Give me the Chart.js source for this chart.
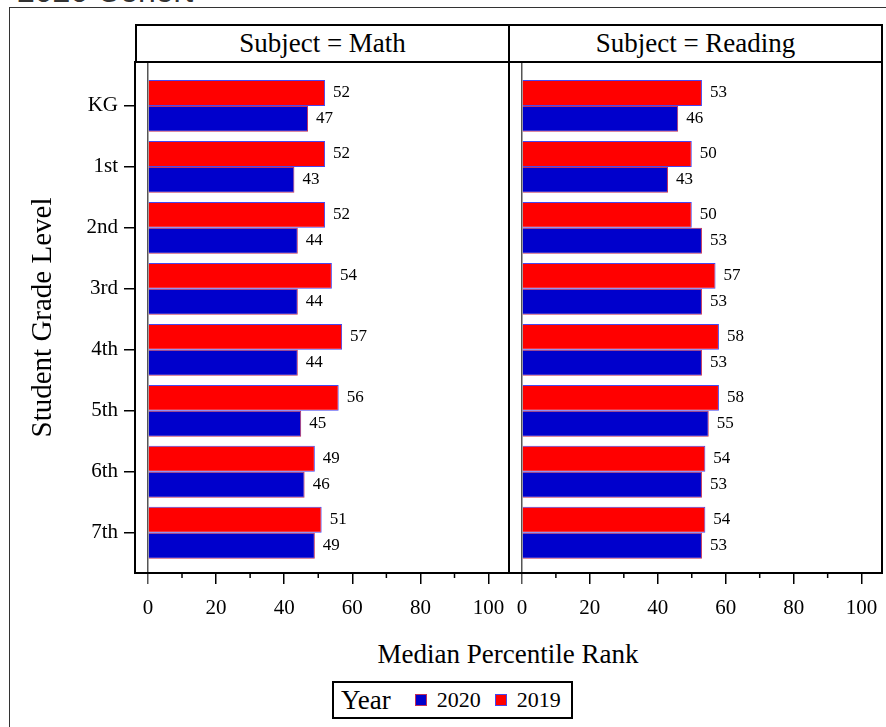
<!DOCTYPE html>
<html>
<head>
<meta charset="utf-8">
<script src="https://cdn.jsdelivr.net/npm/chart.js@4/dist/chart.umd.min.js"></script>
<style>
    body { margin: 0; background: #fff; overflow: hidden; }
    .page { position: relative; width: 886px; height: 727px; overflow: hidden; font-family: 'Liberation Serif', serif; }
    .cohort { position: absolute; left: 17px; top: -25px; font: 32px/1 'Liberation Sans', sans-serif; color: #333; white-space: nowrap; }
    .frame { position: absolute; left: 9px; top: 7px; width: 900px; height: 760px; border: 1px solid #333; }
    .header { position: absolute; top: 24px; height: 39px; box-sizing: border-box; border: 2px solid #000; font-size: 27px; line-height: 35px; text-align: center; background: #fff; }
    canvas { position: absolute; }
    .xtitle { position: absolute; left: 0; width: 1016px; top: 639px; font-size: 27px; text-align: center; }
    .legend { position: absolute; left: 332px; top: 681px; height: 38px; box-sizing: border-box; border: 2px solid #000; padding: 0 10px 0 7px; display: flex; align-items: center; white-space: nowrap; }
    .legend .lbl { font-size: 27px; margin-right: 24px; }
    .legend .sw { width: 10px; height: 10px; border: 1px solid; margin-right: 10px; }
    .legend .yr { font-size: 22px; margin-right: 14px; }
    .legend .yr:last-child { margin-right: 0; }
</style>
</head>
<body>
<div class="page">
    <div class="cohort">2020 Cohort</div>
    <div class="frame"></div>
    <div class="header" style="left:135px;width:375px">Subject = Math</div>
    <div class="header" style="left:508px;width:375px">Subject = Reading</div>
    <canvas id="mathChart" width="510" height="566" style="left:0;top:61px"></canvas>
    <canvas id="readingChart" width="375" height="566" style="left:508px;top:61px"></canvas>
    <div class="xtitle">Median Percentile Rank</div>
    <div class="legend">
        <span class="lbl">Year</span>
        <span class="sw" style="background:#0000cc;border-color:#c0305a"></span><span class="yr">2020</span>
        <span class="sw" style="background:#ff0000;border-color:#4646f0"></span><span class="yr">2019</span>
    </div>
</div>
<script>
const grades = ['KG', '1st', '2nd', '3rd', '4th', '5th', '6th', '7th'];
const years = ['2019', '2020'];
const math2019 = [52, 52, 52, 54, 57, 56, 49, 51];
const math2020 = [47, 43, 44, 44, 44, 45, 46, 49];
const reading2019 = [53, 50, 50, 57, 58, 58, 54, 54];
const reading2020 = [46, 43, 53, 53, 53, 55, 53, 53];
const xTicks = [0, 20, 40, 60, 80, 100];
const xMinorTicks = [10, 30, 50, 70, 90];

Chart.defaults.font.family = "'Liberation Serif', serif";
Chart.defaults.color = '#000';

// frame around plot area + minor ticks on the x axis
const panelFrame = {
    id: 'panelFrame',
    afterDraw(chart) {
        const {ctx, chartArea: a, scales: {x}} = chart;
        ctx.save();
        ctx.strokeStyle = '#000';
        ctx.lineWidth = 2;
        ctx.strokeRect(a.left, a.top, a.right - a.left, a.bottom - a.top);
        ctx.lineWidth = 1.5;
        xMinorTicks.forEach(v => {
            const px = x.getPixelForValue(v);
            ctx.beginPath();
            ctx.moveTo(px, a.bottom);
            ctx.lineTo(px, a.bottom + 5);
            ctx.stroke();
        });
        ctx.restore();
    }
};

// value labels at bar ends
const barLabels = {
    id: 'barLabels',
    afterDatasetsDraw(chart) {
        const ctx = chart.ctx;
        ctx.save();
        ctx.font = "17px 'Liberation Serif', serif";
        ctx.fillStyle = '#000';
        ctx.textBaseline = 'middle';
        ctx.textAlign = 'left';
        chart.data.datasets.forEach((ds, i) => {
            chart.getDatasetMeta(i).data.forEach((bar, j) => {
                ctx.fillText(ds.data[j].x, bar.x + 8, bar.y);
            });
        });
        ctx.restore();
    }
};

// no label overflow padding, fixed axis sizes
function noPad(s) {
    s.paddingTop = 0;
    s.paddingBottom = 0;
    s.paddingLeft = 0;
    s.paddingRight = 0;
}

function toPoints(values) {
    return values.map((v, i) => ({x: v, y: i}));
}

function makeChart(canvasId, v2019, v2020, showY) {
    return new Chart(document.getElementById(canvasId), {
        type: 'bar',
        data: {
            datasets: [{
                    label: years[0],
                    data: toPoints(v2019),
                    backgroundColor: '#ff0000',
                    borderColor: '#4646f0',
                    borderWidth: 1
                }, {
                    label: years[1],
                    data: toPoints(v2020),
                    backgroundColor: '#0000cc',
                    borderColor: '#c0305a',
                    borderWidth: 1
                }]
        },
        options: {
            indexAxis: 'y',
            responsive: false,
            animation: false,
            categoryPercentage: 0.85,
            barPercentage: 1,
            layout: {padding: {top: 1, left: showY ? 0 : 1, right: 1}},
            scales: {
                x: {
                    type: 'linear',
                    min: -3.8,
                    max: 106,
                    offset: false,
                    afterFit: s => { s.height = 54; noPad(s); },
                    afterBuildTicks: s => { s.ticks = xTicks.map(v => ({value: v})); },
                    ticks: {
                        font: {size: 21},
                        padding: 12,
                        maxRotation: 0
                    },
                    grid: {
                        offset: false,
                        color: c => c.tick && c.tick.value === 0 ? '#555' : 'rgba(0,0,0,0)',
                        tickColor: c => c.tick && c.tick.value === 0 ? '#555' : '#000',
                        lineWidth: 1.5,
                        tickLength: 11
                    },
                    border: {display: false}
                },
                y: {
                    type: 'linear',
                    display: showY,
                    reverse: true,
                    offset: false,
                    min: -0.72,
                    max: 7.66,
                    afterFit: s => { s.width = showY ? 135 : 0; noPad(s); },
                    afterBuildTicks: s => { s.ticks = grades.map((g, i) => ({value: i})); },
                    ticks: {
                        font: {size: 21},
                        padding: 6,
                        callback: v => grades[v]
                    },
                    grid: {
                        offset: false,
                        drawOnChartArea: false,
                        tickColor: '#000',
                        lineWidth: 1.5,
                        tickLength: 11
                    },
                    border: {display: false},
                    title: {
                        display: showY,
                        text: 'Student Grade Level',
                        font: {size: 29},
                        padding: {top: 26}
                    }
                }
            },
            plugins: {
                legend: {display: false},
                tooltip: {enabled: false}
            }
        },
        plugins: [panelFrame, barLabels]
    });
}

document.addEventListener('DOMContentLoaded', () => {
    makeChart('mathChart', math2019, math2020, true);
    makeChart('readingChart', reading2019, reading2020, false);
});
</script>
</body>
</html>
